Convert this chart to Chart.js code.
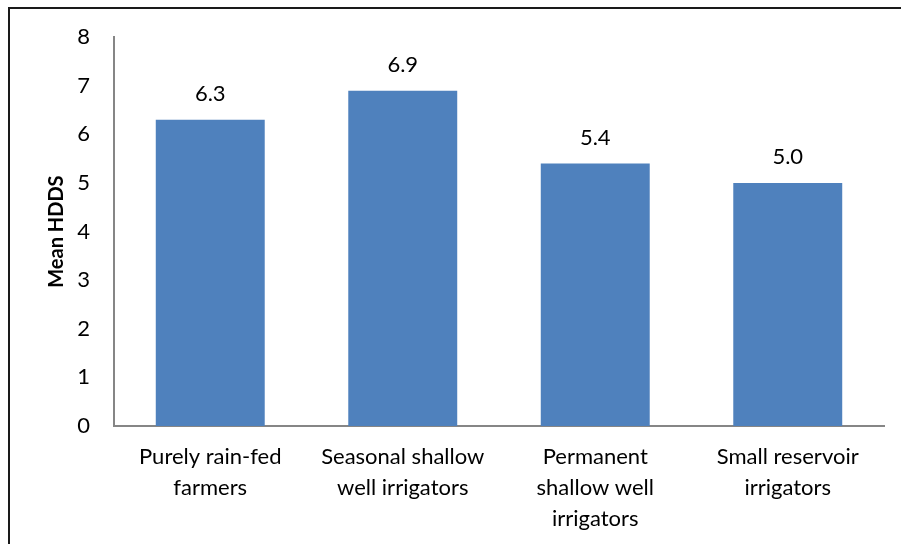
<!DOCTYPE html>
<html>
<head>
<meta charset="utf-8">
<script src="https://cdn.jsdelivr.net/npm/chart.js@4"></script>
<style>
  html, body { margin: 0; padding: 0; background: #fff; overflow: hidden; }
  #wrap { position: relative; width: 901px; height: 544px; }
  #frame { position: absolute; left: 8px; top: 7px; width: 1000px; height: 1000px;
           border: 2px solid #1a1a1a; box-sizing: border-box; pointer-events: none; }
  canvas { position: absolute; left: 0; top: 0; }
</style>
</head>
<body>
<div id="wrap">
  <canvas id="c" width="901" height="544"></canvas>
  <div id="frame"></div>
</div>
<script>
// Household dietary diversity score by farmer group
const categories = [
  ["Purely rain-fed", "farmers"],
  ["Seasonal shallow", "well irrigators"],
  ["Permanent", "shallow well", "irrigators"],
  ["Small reservoir", "irrigators"]
];
const meanHDDS = [6.3, 6.9, 5.4, 5.0];
const yTicks = [0, 1, 2, 3, 4, 5, 6, 7, 8];

const FONT = "Lato, 'Open Sans', sans-serif";

// Writes each bar's value above it
const valueLabels = {
  id: 'valueLabels',
  afterDatasetsDraw(chart) {
    const ctx = chart.ctx;
    const meta = chart.getDatasetMeta(0);
    ctx.save();
    ctx.font = "22px " + FONT;
    ctx.fillStyle = '#000';
    ctx.textAlign = 'center';
    ctx.textBaseline = 'middle';
    meta.data.forEach((bar, i) => {
      ctx.fillText(meanHDDS[i].toFixed(1), bar.x, bar.y - 26);
    });
    ctx.restore();
  }
};

new Chart(document.getElementById('c'), {
  type: 'bar',
  data: {
    labels: categories,
    datasets: [{
      data: meanHDDS,
      backgroundColor: '#4F81BD',
      borderWidth: 0,
      categoryPercentage: 1,
      barPercentage: 0.566
    }]
  },
  options: {
    responsive: false,
    animation: false,
    layout: { padding: { left: 41, top: 35, right: 17, bottom: 0 } },
    plugins: { legend: { display: false }, tooltip: { enabled: false } },
    scales: {
      x: {
        grid: { display: false, drawTicks: false },
        border: { display: true, color: '#868686', width: 2 },
        ticks: {
          color: '#000',
          font: { family: FONT, size: 22, lineHeight: 1.42 },
          padding: 15,
          maxRotation: 0,
          autoSkip: false
        },
        afterFit(s) { s.height = 544 - 426; }
      },
      y: {
        min: 0,
        max: 8,
        afterBuildTicks(s) { s.ticks = yTicks.map(v => ({ value: v })); },
        grid: { display: false, drawTicks: false },
        border: { display: true, color: '#868686', width: 2 },
        ticks: {
          color: '#000',
          font: { family: FONT, size: 22 },
          padding: 24
        },
        title: {
          display: true,
          text: 'Mean HDDS',
          color: '#000',
          font: { family: FONT, size: 20, weight: 'bold' },
          padding: { top: 4, bottom: 4 }
        },
        afterFit(s) { s.width = 73; }
      }
    }
  },
  plugins: [valueLabels]
});
</script>
</body>
</html>
